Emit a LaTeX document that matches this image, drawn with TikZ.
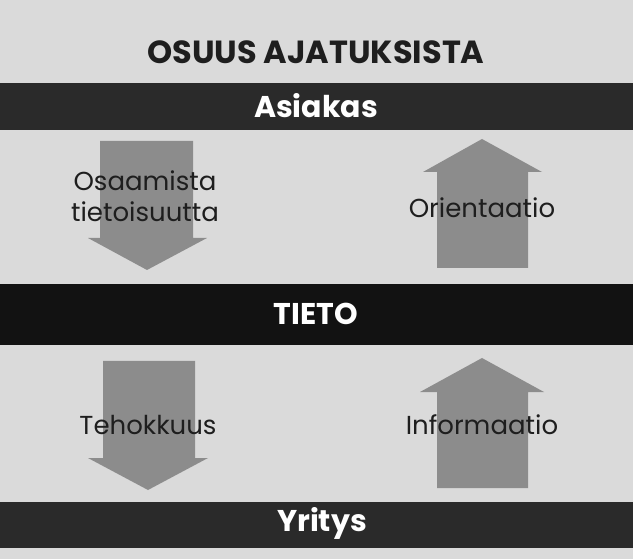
\documentclass[tikz,border=0pt]{standalone}
\usepackage{fontspec}
\setmainfont{Poppins}
\definecolor{paper}{RGB}{218,218,218}
\definecolor{bandgray}{RGB}{42,42,42}
\definecolor{bandblack}{RGB}{18,18,18}
\definecolor{arrowgray}{RGB}{140,140,140}
\definecolor{ink}{RGB}{30,30,30}
\begin{document}
\begin{tikzpicture}[x=1pt,y=-1pt,
    band/.style={fill=bandgray},
    bandtext/.style={text=white,font=\bfseries\fontsize{30}{30}\selectfont},
    flow/.style={fill=arrowgray},
    flowtext/.style={text=ink,font=\fontsize{26}{31}\selectfont,align=center}]
        % tausta
        \fill[paper] (0,0) rectangle (633,559);
        \node[text=ink,font=\bfseries\fontsize{32}{32}\selectfont] (otsikko) at (316,52) {OSUUS AJATUKSISTA};
        % palkit
        \fill[band] (0,83) rectangle (633,130);
        \fill[band,bandblack] (0,284) rectangle (633,345);
        \fill[band] (0,502) rectangle (633,548);
        \node[bandtext] (asiakas) at (316,106) {Asiakas};
        \node[bandtext] (tieto) at (316,314) {TIETO};
        \node[bandtext] (yritys) at (322,523) {Yritys};
        % nuolet ylhaalla
        \fill[flow] (100,141)--(193,141)--(193,238)--(207,238)--(147,270)--(88,238)--(100,238)--cycle;
        \fill[flow] (437,268)--(437,172)--(423,172)--(482,139)--(542,172)--(528,172)--(528,268)--cycle;
        % nuolet alhaalla
        \fill[flow] (103,361)--(195,361)--(195,458)--(208,458)--(148,490)--(88,458)--(103,458)--cycle;
        \fill[flow] (437,488)--(437,392)--(420,392)--(482,358)--(544,392)--(528,392)--(528,488)--cycle;
        \node[flowtext] (osaaminen) at (145,196) {Osaamista\\tietoisuutta};
        \node[flowtext] (orientaatio) at (482,208) {Orientaatio};
        \node[flowtext] (tehokkuus) at (148,425) {Tehokkuus};
        \node[flowtext] (informaatio) at (482,425) {Informaatio};
\end{tikzpicture}
\end{document}
